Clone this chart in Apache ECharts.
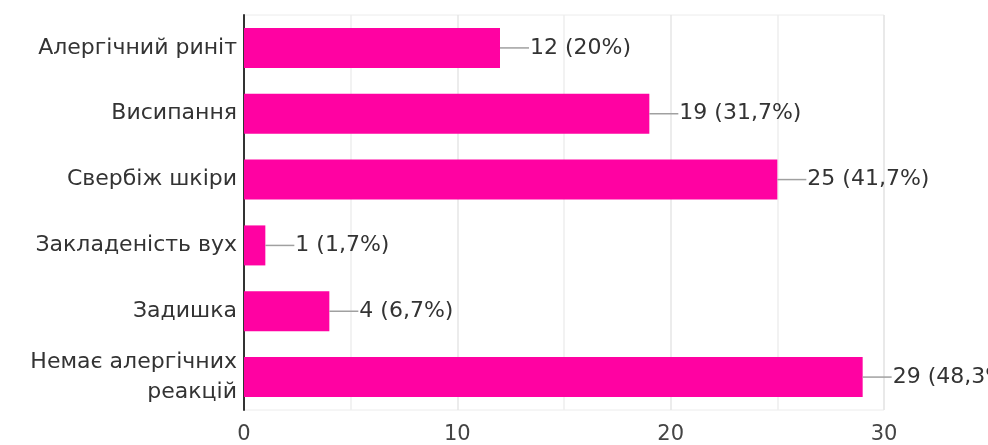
<!DOCTYPE html>
<html lang="uk">
<head>
    <meta charset="UTF-8">
    <title>Алергічні реакції</title>
    <script src="https://cdn.jsdelivr.net/npm/echarts@6/dist/echarts.min.js"></script>
    <style>
        body { margin: 0; background: #fff; }
        #main { width: 988px; height: 445px; }
    </style>
</head>
<body>
    <div id="main"></div>
    <script>
        // категорії та значення
        var categories = ['Алергічний риніт', 'Висипання', 'Свербіж шкіри', 'Закладеність вух', 'Задишка', 'Немає алергічних\nреакцій'];
        var counts = [12, 19, 25, 1, 4, 29];
        var percents = ['20%', '31,7%', '41,7%', '1,7%', '6,7%', '48,3%'];
        var tickValues = [0, 10, 20, 30];

        var myChart = echarts.init(document.getElementById('main'));

        var option = {
            animation: false,
            grid: {
                left: 244, right: 104, top: 15, bottom: 34,
                show: true, borderColor: '#ececec', borderWidth: 1
            },
            xAxis: {
                type: 'value',
                min: tickValues[0],
                max: tickValues[tickValues.length - 1],
                interval: 10,
                axisLine: { show: false },
                axisTick: { show: false },
                splitLine: { lineStyle: { color: '#e6e6e6', width: 1.5 } },
                minorTick: { show: false, splitNumber: 2 },
                minorSplitLine: { show: true, lineStyle: { color: '#eeeeee', width: 1.5 } },
                axisLabel: { color: '#444', fontSize: 21, fontFamily: 'DejaVu Sans', margin: 14 }
            },
            yAxis: {
                type: 'category',
                data: categories,
                inverse: true,
                axisLine: { show: true, lineStyle: { color: '#333', width: 2 } },
                axisTick: { show: false },
                axisLabel: {
                    color: '#333', fontSize: 22, fontFamily: 'DejaVu Sans',
                    margin: 7, lineHeight: 30, align: 'right', padding: [10, 0, 0, 0]
                }
            },
            series: [{
                type: 'bar',
                data: counts,
                barWidth: 40,
                itemStyle: { color: '#ff02a2' },
                label: {
                    show: true,
                    position: 'right',
                    distance: 0,
                    formatter: function (p) {
                        return '{line|}{t|' + p.value + ' (' + percents[p.dataIndex] + ')}';
                    },
                    rich: {
                        line: { width: 29, height: 1.5, backgroundColor: '#a0a0a0' },
                        t: { color: '#333', fontSize: 22, fontFamily: 'DejaVu Sans', padding: [0, 0, 0, 1] }
                    }
                }
            }]
        };

        myChart.setOption(option);
    </script>
</body>
</html>
